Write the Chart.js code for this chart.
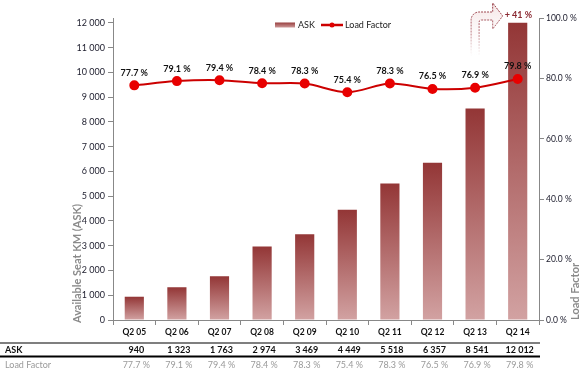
<!DOCTYPE html>
<html>
<head>
<meta charset="utf-8">
<script src="https://cdn.jsdelivr.net/npm/chart.js@4/dist/chart.umd.min.js"></script>
<style>
  html, body { margin: 0; padding: 0; background: #fff; }
  #wrap { width: 582px; height: 372px; }
</style>
</head>
<body>
<div id="wrap"><canvas id="chart" width="582" height="372"></canvas></div>
<script>
const categories = ["Q2 05", "Q2 06", "Q2 07", "Q2 08", "Q2 09", "Q2 10", "Q2 11", "Q2 12", "Q2 13", "Q2 14"];
const askValues = [940, 1323, 1763, 2974, 3469, 4449, 5518, 6357, 8541, 12012];
const loadFactor = [77.7, 79.1, 79.4, 78.4, 78.3, 75.4, 78.3, 76.5, 76.9, 79.8];
const askTicks = [0, 1000, 2000, 3000, 4000, 5000, 6000, 7000, 8000, 9000, 10000, 11000, 12000];
const pctTicks = [0, 20, 40, 60, 80, 100];
const growthLabel = "+ 41 %";

const FONT = "Lato, 'Liberation Sans', sans-serif";

function fmtThousands(v) {
  return String(v).replace(/\B(?=(\d{3})+(?!\d))/g, " ");
}
function fmtPct(v) {
  return v.toFixed(1) + " %";
}

function barGradient(c, top, bot) {
  const g = c.createLinearGradient(0, top, 0, bot);
  g.addColorStop(0, "#933636");
  g.addColorStop(1, "#d2a2a2");
  return g;
}

// labels, table, titles, legend, arrow
const extras = {
  id: "extras",
  afterDatasetsDraw(chart) {
    const c = chart.ctx;
    const x = chart.scales.x;
    const y = chart.scales.y;
    const area = chart.chartArea;

    // point labels
    const meta = chart.getDatasetMeta(1);
    c.save();
    c.font = "bold 9px " + FONT;
    c.fillStyle = "#111";
    c.textAlign = "center";
    c.textBaseline = "bottom";
    meta.data.forEach((pt, i) => {
      c.fillText(fmtPct(loadFactor[i]), pt.x, pt.y - 8);
    });
    c.restore();

    // growth arrow above Q2 13
    const cx = x.getPixelForValue(8);
    const tip = x.getPixelForValue(9) - 15;
    const hx = tip - 10;
    const bottom = y.getPixelForValue(8541) - 52;
    const mid = 16;
    c.save();
    c.beginPath();
    c.moveTo(cx - 4, bottom);
    c.lineTo(cx - 4, mid - 4 + 8);
    c.arcTo(cx - 4, mid - 4, cx + 4, mid - 4, 8);
    c.lineTo(hx, mid - 4);
    c.lineTo(hx, mid - 13);
    c.lineTo(tip, mid);
    c.lineTo(hx, mid + 13);
    c.lineTo(hx, mid + 4);
    c.lineTo(cx + 6, mid + 4);
    c.arcTo(cx + 4, mid + 4, cx + 4, mid + 6, 2);
    c.lineTo(cx + 4, bottom);
    const fg = c.createLinearGradient(0, 0, 0, bottom);
    fg.addColorStop(0, "rgba(235,205,205,0.6)");
    fg.addColorStop(1, "rgba(255,255,255,0)");
    c.fillStyle = fg;
    c.fill();
    const sg = c.createLinearGradient(0, 0, 0, bottom);
    sg.addColorStop(0, "rgba(140,40,50,1)");
    sg.addColorStop(0.6, "rgba(160,70,80,0.7)");
    sg.addColorStop(1, "rgba(200,150,150,0)");
    c.strokeStyle = sg;
    c.lineWidth = 1;
    c.setLineDash([2, 1]);
    c.stroke();
    c.setLineDash([]);
    c.font = "bold 9px " + FONT;
    c.fillStyle = "#8b2a33";
    c.textAlign = "left";
    c.textBaseline = "middle";
    c.fillText(growthLabel, tip + 2, 15);
    c.restore();

    // legend
    c.save();
    const ly = 25;
    c.fillStyle = barGradient(c, ly - 3, ly + 3);
    c.fillRect(275, ly - 2.5, 20, 5);
    c.font = "9px " + FONT;
    c.fillStyle = "#222";
    c.textBaseline = "middle";
    c.textAlign = "left";
    c.fillText("ASK", 298, ly);
    c.strokeStyle = "#cc0000";
    c.lineWidth = 2.5;
    c.beginPath();
    c.moveTo(321, ly);
    c.lineTo(343, ly);
    c.stroke();
    c.fillStyle = "#e00000";
    c.beginPath();
    c.arc(332, ly, 2.5, 0, Math.PI * 2);
    c.fill();
    c.fillStyle = "#222";
    c.fillText("Load Factor", 345, ly);
    c.restore();

    // axis titles
    c.save();
    c.font = "bold 11px " + FONT;
    c.fillStyle = "#8a8a8a";
    c.textBaseline = "middle";
    c.textAlign = "left";
    c.translate(77, area.bottom + 3);
    c.rotate(-Math.PI / 2);
    c.fillText("Available Seat KM (ASK)", 0, 0);
    c.restore();
    c.save();
    c.font = "bold 11px " + FONT;
    c.fillStyle = "#8a8a8a";
    c.textBaseline = "middle";
    c.textAlign = "left";
    c.translate(575, area.bottom);
    c.rotate(-Math.PI / 2);
    c.fillText("Load Factor", 0, 0);
    c.restore();

    // data table
    c.save();
    const lineEnd = area.right + 1;
    c.strokeStyle = "#000";
    c.lineWidth = 1.2;
    c.beginPath();
    c.moveTo(0, 343);
    c.lineTo(lineEnd, 343);
    c.stroke();
    c.lineWidth = 2.2;
    c.beginPath();
    c.moveTo(0, 356.5);
    c.lineTo(lineEnd, 356.5);
    c.stroke();
    c.textBaseline = "middle";
    c.font = "bold 9px " + FONT;
    c.fillStyle = "#111";
    c.textAlign = "left";
    c.fillText("ASK", 5, 350);
    c.textAlign = "center";
    askValues.forEach((v, i) => {
      c.fillText(fmtThousands(v), x.getPixelForValue(i) + 2, 350);
    });
    c.font = "9px " + FONT;
    c.fillStyle = "#9a9a9a";
    c.textAlign = "left";
    c.fillText("Load Factor", 5, 365);
    c.textAlign = "center";
    loadFactor.forEach((v, i) => {
      c.fillText(fmtPct(v), x.getPixelForValue(i) + 2, 365);
    });
    c.restore();
  }
};

const ctx = document.getElementById("chart").getContext("2d");

new Chart(ctx, {
  data: {
    labels: categories,
    datasets: [
      {
        type: "bar",
        label: "ASK",
        data: askValues,
        yAxisID: "y",
        order: 1,
        barPercentage: 0.45,
        categoryPercentage: 1,
        backgroundColor: (context) => {
          const chart = context.chart;
          const ys = chart.scales.y;
          if (!chart.chartArea || !ys || context.type !== "data") return "#a85555";
          const top = ys.getPixelForValue(context.raw);
          const bot = ys.getPixelForValue(0);
          return barGradient(chart.ctx, top, bot);
        },
      },
      {
        type: "line",
        label: "Load Factor",
        data: loadFactor,
        yAxisID: "y1",
        order: 0,
        borderColor: "#cc0000",
        borderWidth: 2,
        tension: 0.3,
        pointRadius: 4,
        pointBackgroundColor: "#e80000",
        pointBorderColor: "#e80000",
        fill: false,
      },
    ],
  },
  options: {
    responsive: false,
    animation: false,
    layout: { padding: { left: 68, right: 0, top: 18, bottom: 0 } },
    plugins: {
      legend: { display: false },
      tooltip: { enabled: false },
    },
    scales: {
      x: {
        offset: true,
        grid: {
          offset: true,
          drawOnChartArea: false,
          drawTicks: true,
          tickLength: 5,
          color: "#888",
        },
        border: { color: "#888", width: 1 },
        ticks: {
          font: { family: FONT, size: 8.5, weight: "bold" },
          color: "#111",
          padding: 2,
          maxRotation: 0,
        },
        afterFit(scale) { scale.height = 52; },
      },
      y: {
        position: "left",
        min: 0,
        max: 12200,
        grid: { drawOnChartArea: false, tickLength: 5, color: "#888" },
        border: { color: "#888", width: 1 },
        ticks: {
          font: { family: FONT, size: 9 },
          color: "#1c1c2c",
          padding: 3,
          callback: (v) => fmtThousands(v),
        },
        afterBuildTicks(scale) {
          scale.ticks = askTicks.map((v) => ({ value: v }));
        },
        afterFit(scale) { scale.width = 45; },
      },
      y1: {
        position: "right",
        min: 0,
        max: 100,
        grid: { drawOnChartArea: false, tickLength: 5, color: "#888" },
        border: { color: "#888", width: 1 },
        ticks: {
          font: { family: FONT, size: 8.5 },
          color: "#1c1c2c",
          padding: 2,
          callback: (v) => fmtPct(v),
        },
        afterBuildTicks(scale) {
          scale.ticks = pctTicks.map((v) => ({ value: v }));
        },
        afterFit(scale) { scale.width = 43; },
      },
    },
  },
  plugins: [extras],
});
</script>
</body>
</html>
